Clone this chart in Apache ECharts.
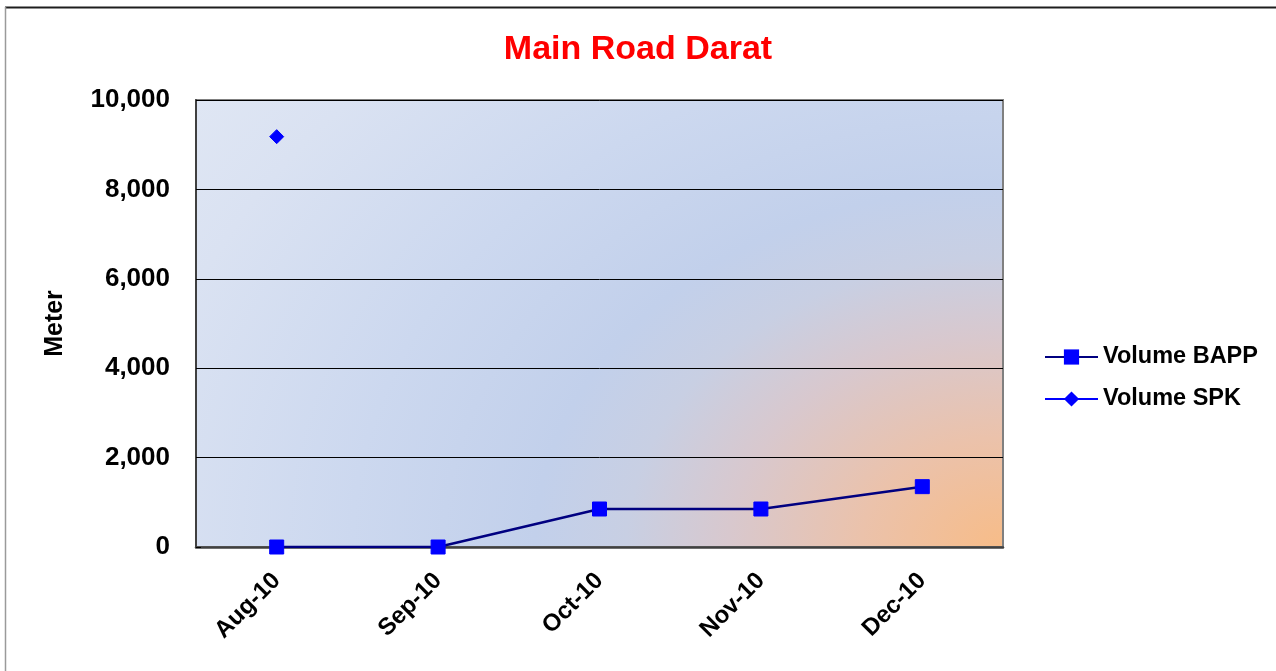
<!DOCTYPE html>
<html>
<head>
<meta charset="utf-8">
<script src="https://cdn.jsdelivr.net/npm/echarts@6/dist/echarts.min.js"></script>
<style>
  html, body { margin: 0; padding: 0; background: #ffffff; }
  #chart { width: 1276px; height: 671px; }
</style>
</head>
<body>
<div id="chart"></div>
<script>
const categories = ['Aug-10', 'Sep-10', 'Oct-10', 'Nov-10', 'Dec-10'];
const volumeBAPP = [0, 0, 850, 850, 1350];
const volumeSPK = [9180, null, null, null, null];
const yTicks = [0, 2000, 4000, 6000, 8000, 10000];

const FONT = '"Liberation Sans", Arial, sans-serif';

// plot-area layout (pixels)
const GRID = { left: 196, top: 100, width: 807, height: 447 };
const BG_STRETCH = 1.3;

const chart = echarts.init(document.getElementById('chart'), null, { renderer: 'canvas' });

// elliptical "from corner" background: a radial gradient stretched horizontally
const bgFill = {
  type: 'radial', x: 1, y: 1, r: 1.75,
  colorStops: [
    { offset: 0.00, color: '#f7bc88' },
    { offset: 0.14, color: '#ebc2ab' },
    { offset: 0.27, color: '#d8c8ce' },
    { offset: 0.37, color: '#c8cfe3' },
    { offset: 0.46, color: '#c2d0eb' },
    { offset: 0.64, color: '#ccd8ef' },
    { offset: 0.86, color: '#dae2f2' },
    { offset: 1.00, color: '#e0e7f4' }
  ]
};

chart.setOption({
  backgroundColor: '#ffffff',
  animation: false,
  title: {
    text: 'Main Road Darat',
    left: 'center',
    top: 28,
    textStyle: { color: '#ff0000', fontFamily: FONT, fontWeight: 'bold', fontSize: 34 }
  },
  graphic: [
    {
      type: 'rect', z: -10, silent: true,
      x: GRID.left, y: GRID.top, scaleX: BG_STRETCH, scaleY: 1,
      shape: { x: 0, y: 0, width: GRID.width / BG_STRETCH, height: GRID.height },
      style: { fill: bgFill }
    },
    { type: 'line', shape: { x1: 5, y1: 7.5, x2: 1276, y2: 7.5 }, style: { stroke: '#1e1e1e', lineWidth: 2 }, silent: true },
    { type: 'line', shape: { x1: 5.5, y1: 7, x2: 5.5, y2: 671 }, style: { stroke: '#9a9a9a', lineWidth: 1.5 }, silent: true }
  ],
  legend: {
    orient: 'vertical',
    left: 1039,
    top: 338,
    itemWidth: 53,
    itemHeight: 19,
    itemGap: 14,
    textStyle: { fontFamily: FONT, fontWeight: 'bold', fontSize: 23.5, color: '#000', lineHeight: 28 },
    data: ['Volume BAPP', 'Volume SPK']
  },
  grid: {
    left: GRID.left, top: GRID.top, width: GRID.width, height: GRID.height,
    show: true,
    backgroundColor: 'transparent',
    borderColor: '#808080',
    borderWidth: 2
  },
  xAxis: {
    type: 'category',
    data: categories,
    boundaryGap: true,
    axisLine: { show: true, lineStyle: { color: '#404040', width: 2.5 } },
    axisTick: { show: false },
    axisLabel: {
      rotate: 45,
      margin: 30,
      fontFamily: FONT, fontWeight: 'bold', fontSize: 24, color: '#000'
    },
    splitLine: { show: false }
  },
  yAxis: {
    type: 'value',
    min: yTicks[0],
    max: yTicks[yTicks.length - 1],
    interval: yTicks[1] - yTicks[0],
    name: 'Meter',
    nameLocation: 'middle',
    nameGap: 128,
    nameRotate: 90,
    nameTextStyle: { fontFamily: FONT, fontWeight: 'bold', fontSize: 25, color: '#000' },
    axisLine: { show: true, lineStyle: { color: '#404040', width: 2 } },
    axisTick: { show: true, inside: true, length: 5, lineStyle: { color: '#000' } },
    axisLabel: {
      margin: 26,
      fontFamily: FONT, fontWeight: 'bold', fontSize: 26, color: '#000',
      formatter: function (v) { return v.toLocaleString('en-US'); }
    },
    splitLine: { show: true, lineStyle: { color: '#000000', width: 1 } }
  },
  series: [
    {
      name: 'Volume BAPP',
      type: 'line',
      data: volumeBAPP,
      symbol: 'rect',
      symbolSize: 14,
      lineStyle: { color: '#000080', width: 2.5 },
      itemStyle: { color: '#0000ff', borderColor: '#0000ff' },
      z: 3
    },
    {
      name: 'Volume SPK',
      type: 'line',
      data: volumeSPK,
      symbol: 'diamond',
      symbolSize: 14,
      connectNulls: false,
      lineStyle: { color: '#0000ff', width: 2.5 },
      itemStyle: { color: '#0000ff', borderColor: '#0000ff' },
      z: 4
    }
  ]
});
</script>
</body>
</html>
